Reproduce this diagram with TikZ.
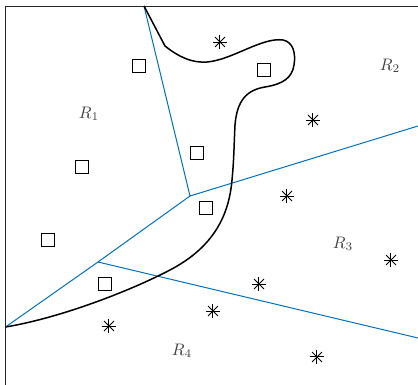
\documentclass[tikz,border=0pt]{standalone}
\usepackage{xcolor}
\definecolor{edgeblue}{RGB}{0,114,189}
\definecolor{labelgray}{RGB}{64,64,64}
\begin{document}
\begin{tikzpicture}[x=0.6pt, y=-0.6pt]
    \tikzset{
        sqmark/.style={draw, line width=0.7pt, minimum size=8.2pt, inner sep=0pt},
        starmark/.style={minimum size=8.6pt, inner sep=0pt,
            path picture={\foreach \a in {0,45,90,135}
                \draw[line width=0.6pt] (path picture bounding box.center) ++(\a:4.2pt) -- ++(\a+180:8.4pt);}},
        reg/.style={text=labelgray},
        edge/.style={edgeblue, line width=0.6pt}
    }
    \useasboundingbox (0,0) rectangle (418,385);

    % frame (left and top)
    \draw[black!85, line width=0.6pt] (5.5,385) -- (5.5,6) -- (418,6);

    % Voronoi edges
    \coordinate (top) at (144,6);
    \coordinate (va) at (190,196);
    \coordinate (vb) at (98,262);
    \coordinate (right1) at (418,126);
    \coordinate (right2) at (418,338);
    \coordinate (left) at (5.5,327);
    \draw[edge] (top) -- (va) -- (right1);
    \draw[edge] (va) -- (vb) -- (left);
    \draw[edge] (vb) -- (right2);

    % decision boundary
    \draw[line width=0.9pt] (top) -- (165,46)
        .. controls (180,58) and (193,63) .. (207,62)
        .. controls (232,60) and (262,37) .. (283,40)
        .. controls (293,42) and (296,53) .. (294,65)
        .. controls (292,78) and (283,84) .. (265,87)
        .. controls (247,90) and (237,100) .. (235,125)
        .. controls (234,145) and (234,160) .. (232,180)
        .. controls (229,215) and (214,247) .. (170,270)
        .. controls (130,291) and (60,318) .. (left);

    % class 1
    \foreach \p [count=\i] in {(139,66), (264,70), (197,153), (82,167), (206,208), (48,240), (105,284)}
        \node[sqmark] (q\i) at \p {};

    % class 2
    \foreach \p [count=\i] in {(220,42), (313,120), (287,196), (391,260), (259,284), (213,311), (109,326), (317,357)}
        \node[starmark] (s\i) at \p {};

    % regions
    \node[reg] (r1) at (89,114) {$R_1$};
    \node[reg] (r2) at (390,66) {$R_2$};
    \node[reg] (r3) at (343,244) {$R_3$};
    \node[reg] (r4) at (182,351) {$R_4$};
\end{tikzpicture}
\end{document}
